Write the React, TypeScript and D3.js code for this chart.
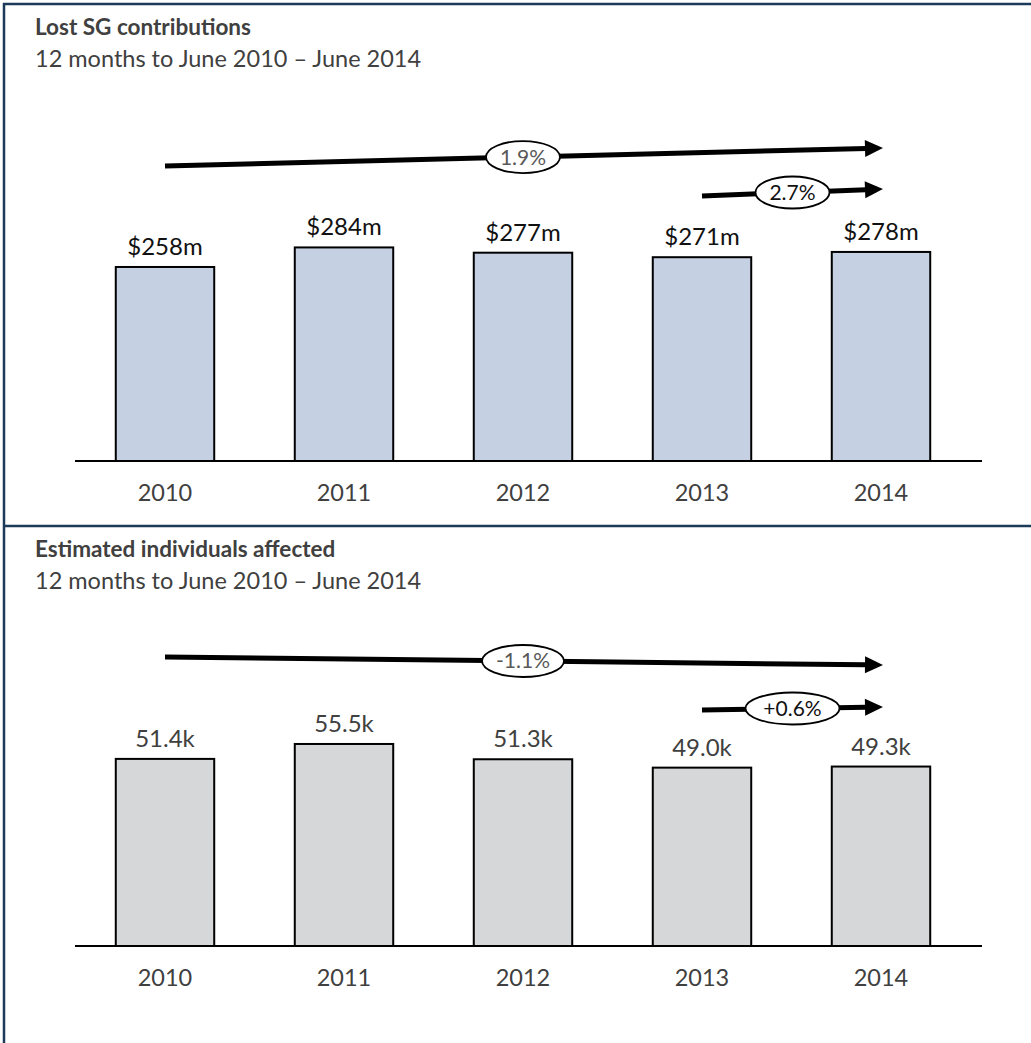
import React from "react";
import * as d3 from "d3";

const years = ["2010", "2011", "2012", "2013", "2014"];
const lostSG = [258, 284, 277, 271, 278];
const lostSGLabels = ["$258m", "$284m", "$277m", "$271m", "$278m"];
const individuals = [51.4, 55.5, 51.3, 49.0, 49.3];
const individualsLabels = ["51.4k", "55.5k", "51.3k", "49.0k", "49.3k"];
const topTrend = { long: "1.9%", short: "2.7%" };
const bottomTrend = { long: "-1.1%", short: "+0.6%" };

const W = 1031;
const H = 1043;
const FONT = "Lato, 'Open Sans', sans-serif";
const TEXT = "#404040";

type ArrowSpec = { y1: number; y2: number; label: string; rx: number; color: string };

type PanelProps = {
  y0: number;
  title: string;
  subtitle: string;
  values: number[];
  labels: string[];
  yMax: number;
  fill: string;
  baseY: number;
  plotH: number;
  longArrow: ArrowSpec;
  shortArrow: ArrowSpec;
  labelColor: string;
};

function Arrow({ x1, y1, x2, y2 }: { x1: number; y1: number; x2: number; y2: number }) {
  const head = 18;
  const half = 8.5;
  const ang = Math.atan2(y2 - y1, x2 - x1);
  const bx = x2 - head * Math.cos(ang);
  const by = y2 - head * Math.sin(ang);
  const px = -Math.sin(ang);
  const py = Math.cos(ang);
  const pts = [
    [x2, y2],
    [bx + px * half, by + py * half],
    [bx - px * half, by - py * half],
  ];
  return (
    <g>
      <line x1={x1} y1={y1} x2={bx + 1} y2={by} stroke="#000" strokeWidth={5} />
      <polygon points={pts.map((p) => p.join(",")).join(" ")} fill="#000" />
    </g>
  );
}

function Panel(p: PanelProps) {
  const x = d3
    .scaleBand<string>()
    .domain(years)
    .range([75.5, 970.5])
    .paddingInner(0.45)
    .paddingOuter(0.225);
  const y = d3.scaleLinear().domain([0, p.yMax]).range([p.baseY, p.baseY - p.plotH]);
  const cx = (i: number) => (x(years[i]) as number) + x.bandwidth() / 2;
  const arrowEnd = cx(4) + 2;
  const la = p.longArrow;
  const sa = p.shortArrow;
  const lx1 = cx(0);
  const sx1 = cx(3);
  const lmx = cx(2);
  const lmy = la.y1 + ((la.y2 - la.y1) * (lmx - lx1)) / (arrowEnd - lx1);
  const smx = (sx1 + arrowEnd) / 2;
  const smy = sa.y1 + ((sa.y2 - sa.y1) * (smx - sx1)) / (arrowEnd - sx1);
  return (
    <g>
      <text x={35} y={p.y0 + 35} fontFamily={FONT} fontWeight="bold" fontSize={22.5} fill={TEXT}>
        {p.title}
      </text>
      <text x={35} y={p.y0 + 67} fontFamily={FONT} fontSize={23.5} fill={TEXT}>
        {p.subtitle}
      </text>
      {p.values.map((v, i) => (
        <g key={years[i]}>
          <rect
            x={x(years[i])}
            y={y(v)}
            width={x.bandwidth()}
            height={p.baseY - y(v)}
            fill={p.fill}
            stroke="#000"
            strokeWidth={2}
          />
          <text
            x={cx(i)}
            y={y(v) - 12}
            textAnchor="middle"
            fontFamily={FONT}
            fontSize={24}
            fill={p.labelColor}
          >
            {p.labels[i]}
          </text>
          <text
            x={cx(i)}
            y={p.baseY + 40}
            textAnchor="middle"
            fontFamily={FONT}
            fontSize={23.5}
            fill={TEXT}
          >
            {years[i]}
          </text>
        </g>
      ))}
      <line x1={75} x2={982} y1={p.baseY} y2={p.baseY} stroke="#000" strokeWidth={2} />
      <Arrow x1={lx1} y1={la.y1} x2={arrowEnd} y2={la.y2} />
      <ellipse cx={lmx} cy={lmy} rx={la.rx} ry={16} fill="#fff" stroke="#000" strokeWidth={1.8} />
      <text x={lmx} y={lmy + 7.5} textAnchor="middle" fontFamily={FONT} fontSize={21} fill={la.color}>
        {la.label}
      </text>
      <Arrow x1={sx1} y1={sa.y1} x2={arrowEnd} y2={sa.y2} />
      <ellipse cx={smx} cy={smy} rx={sa.rx} ry={16} fill="#fff" stroke="#000" strokeWidth={1.8} />
      <text x={smx} y={smy + 7.5} textAnchor="middle" fontFamily={FONT} fontSize={21} fill={sa.color}>
        {sa.label}
      </text>
    </g>
  );
}

export default function App() {
  return (
    <svg
      width={W}
      height={H}
      style={{ position: "absolute", left: 0, top: 0, background: "#fff" }}
    >
      <rect x={0} y={0} width={W} height={H} fill="#fff" />
      <line x1={3} x2={W} y1={4} y2={4} stroke="#1c3a5a" strokeWidth={2.5} />
      <line x1={4} x2={4} y1={3} y2={H} stroke="#1c3a5a" strokeWidth={2.5} />
      <line x1={3} x2={W} y1={526} y2={526} stroke="#1c3a5a" strokeWidth={2.5} />
      <Panel
        y0={0}
        title="Lost SG contributions"
        subtitle="12 months to June 2010 – June 2014"
        values={lostSG}
        labels={lostSGLabels}
        yMax={400}
        plotH={300.8}
        baseY={461}
        fill="#c5d0e2"
        labelColor="#111"
        longArrow={{ y1: 166, y2: 148, label: topTrend.long, rx: 37, color: "#595959" }}
        shortArrow={{ y1: 196, y2: 189, label: topTrend.short, rx: 37, color: "#111" }}
      />
      <Panel
        y0={522}
        title="Estimated individuals affected"
        subtitle="12 months to June 2010 – June 2014"
        values={individuals}
        labels={individualsLabels}
        yMax={60}
        plotH={218.4}
        baseY={946}
        fill="#d6d7d9"
        labelColor={TEXT}
        longArrow={{ y1: 657, y2: 665, label: bottomTrend.long, rx: 41, color: "#595959" }}
        shortArrow={{ y1: 710, y2: 707, label: bottomTrend.short, rx: 47, color: "#111" }}
      />
    </svg>
  );
}
